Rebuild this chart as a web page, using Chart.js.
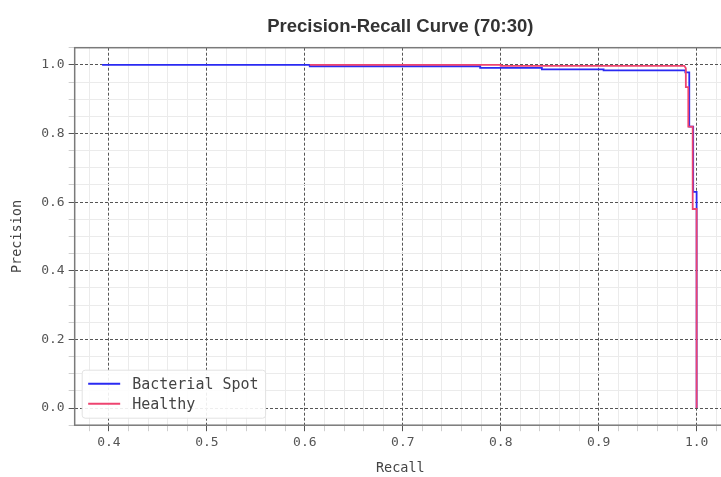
<!DOCTYPE html>
<html>
<head>
<meta charset="utf-8">
<script src="https://cdn.jsdelivr.net/npm/chart.js@4"></script>
<style>
  body { margin: 0; background: #fff; overflow: hidden; }
</style>
</head>
<body>
<canvas id="prChart" width="726" height="477"></canvas>
<script>
// values
const blueRecall    = [0.393, 0.605, 0.605, 0.779, 0.779, 0.842, 0.842, 0.905, 0.905, 0.9885, 0.9885, 0.9925, 0.9925, 0.9965, 0.9965, 1.0, 1.0];
const bluePrecision = [1.0,   1.0,   0.996, 0.996, 0.991, 0.991, 0.987, 0.987, 0.984, 0.984,  0.978,  0.978,  0.82,   0.82,   0.63,   0.63, 0.0];
const pinkRecall    = [0.605, 0.80, 0.80,  0.9875, 0.989, 0.989, 0.9915, 0.9915, 0.996, 0.996, 1.0,  1.0];
const pinkPrecision = [1.0,   1.0,  0.997, 0.997,  0.99,  0.935, 0.935,  0.82,   0.82,  0.58,  0.58, 0.0];

const xMajor = [0.4, 0.5, 0.6, 0.7, 0.8, 0.9, 1.0];
const yMajor = [0.0, 0.2, 0.4, 0.6, 0.8, 1.0];
const xMinorStep = 0.02;
const yMinorStep = 0.05;

const xRange = [0.365, 1.03];
const yRange = [-0.05, 1.05];

const mono = 'DejaVu Sans Mono, monospace';
const toPoints = (xs, ys) => xs.map((x, i) => ({ x: x, y: ys[i] }));

function tickList(step, range) {
  const out = [];
  for (let v = Math.ceil(range[0] / step - 1e-9) * step; v <= range[1] + 1e-9; v += step) {
    out.push(Math.round(v * 1000) / 1000);
  }
  return out;
}
const isMajor = (list, v) => list.some(m => Math.abs(m - v) < 1e-6);

function axis(min, max, major, step, titleText, titlePad) {
  const values = tickList(step, [min, max]);
  return {
    type: 'linear',
    min: min,
    max: max,
    afterBuildTicks: (scale) => { scale.ticks = values.map(v => ({ value: v })); },
    ticks: {
      autoSkip: false,
      maxRotation: 0,
      padding: 4,
      color: '#555',
      font: { family: mono, size: 13 },
      callback: (v) => isMajor(major, v) ? v.toFixed(1) : ''
    },
    grid: {
      color: (c) => c.tick && isMajor(major, c.tick.value) ? '#555' : '#ebebeb',
      tickColor: (c) => c.tick && isMajor(major, c.tick.value) ? '#555' : '#cfcfcf',
      tickLength: 6,
      lineWidth: 1
    },
    border: {
      display: false,
      dash: (c) => c.tick && isMajor(major, c.tick.value) ? [3, 2] : []
    },
    title: {
      display: true,
      text: titleText,
      color: '#444',
      font: { family: mono, size: 13.5 },
      padding: titlePad
    }
  };
}

// frame round the plot area
const frame = {
  id: 'frame',
  beforeDatasetsDraw(chart) {
    const a = chart.chartArea, ctx = chart.ctx;
    ctx.save();
    ctx.strokeStyle = '#7a7a7a';
    ctx.lineWidth = 1.5;
    ctx.strokeRect(a.left, a.top, a.right - a.left, a.bottom - a.top);
    ctx.restore();
  }
};

// legend box in the lower left corner of the plot
const cornerLegend = {
  id: 'cornerLegend',
  afterDraw(chart) {
    const a = chart.chartArea, ctx = chart.ctx;
    const sets = chart.data.datasets;
    ctx.save();
    ctx.font = '15px ' + mono;
    const textW = Math.max(...sets.map(d => ctx.measureText(d.label).width));
    const w = 6 + 32 + 12 + textW + 7;
    const h = 48;
    const x = a.left + 7.5, y = a.bottom - 7 - h;
    ctx.fillStyle = 'rgba(255,255,255,0.9)';
    ctx.strokeStyle = '#e2e2e2';
    ctx.lineWidth = 1;
    ctx.beginPath();
    ctx.roundRect(x, y, w, h, 3);
    ctx.fill();
    ctx.stroke();
    sets.forEach((d, i) => {
      const ly = y + 13.5 + i * 20;
      ctx.strokeStyle = d.borderColor;
      ctx.lineWidth = 2;
      ctx.beginPath();
      ctx.moveTo(x + 6, ly);
      ctx.lineTo(x + 38, ly);
      ctx.stroke();
      ctx.fillStyle = '#444';
      ctx.textBaseline = 'middle';
      ctx.fillText(d.label, x + 50, ly + 1);
    });
    ctx.restore();
  }
};

new Chart(document.getElementById('prChart'), {
  type: 'line',
  data: {
    datasets: [
      {
        label: 'Bacterial Spot',
        data: toPoints(blueRecall, bluePrecision),
        borderColor: '#2a2af2',
        borderWidth: 1.8,
        pointRadius: 0,
        tension: 0,
        order: 1
      },
      {
        label: 'Healthy',
        data: toPoints(pinkRecall, pinkPrecision),
        borderColor: '#ee4470',
        borderWidth: 1.8,
        pointRadius: 0,
        tension: 0,
        order: 0
      }
    ]
  },
  options: {
    responsive: false,
    animation: false,
    layout: { padding: 0 },
    scales: {
      x: axis(xRange[0], xRange[1], xMajor, xMinorStep, 'Recall', { top: 6, bottom: 0 }),
      y: axis(yRange[0], yRange[1], yMajor, yMinorStep, 'Precision', { top: 9, bottom: 12 })
    },
    plugins: {
      legend: { display: false },
      tooltip: { enabled: false },
      title: {
        display: true,
        fullSize: false,
        text: 'Precision-Recall Curve (70:30)',
        color: '#333',
        font: { family: 'Liberation Sans, Arial, sans-serif', size: 18.5, weight: 'bold' },
        padding: { top: 16, bottom: 9.5 }
      }
    }
  },
  plugins: [frame, cornerLegend]
});
</script>
</body>
</html>
